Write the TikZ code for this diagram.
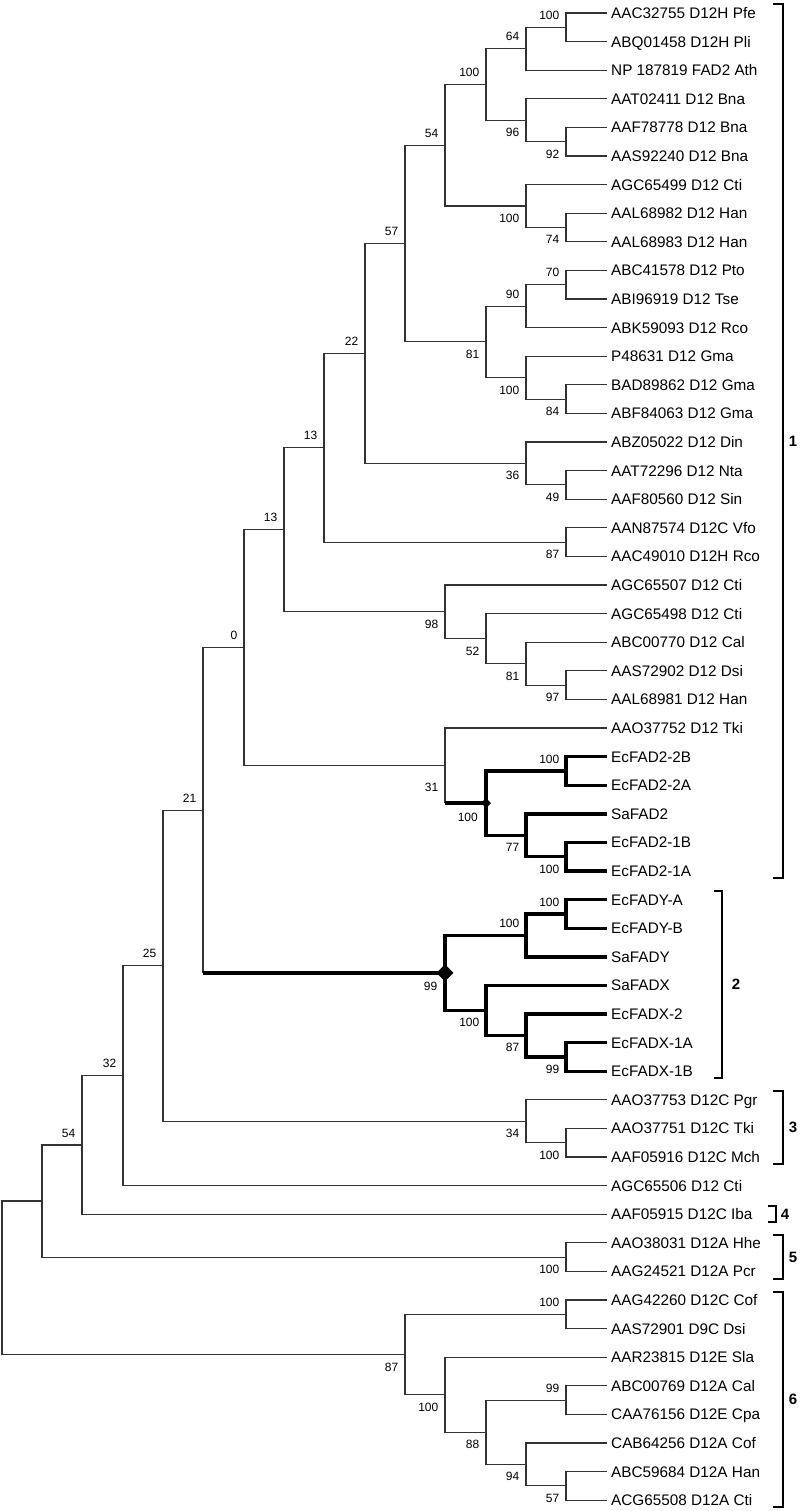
\documentclass[tikz,border=0pt]{standalone}
\usepackage{fontspec}
\setmainfont{Liberation Sans}
\usetikzlibrary{positioning,shapes.geometric}

\begin{document}
\begin{tikzpicture}[x=1pt,y=-1pt,
    br/.style={draw=black!80,line width=1.1pt},
    bold/.style={draw=black,line width=3.4pt},
    leaf/.style={inner sep=0pt,text height=11pt,text depth=0pt,font=\fontsize{15.3}{18}\selectfont},
    bsa/.style={inner sep=0pt,anchor=south east,xshift=-6.5pt,yshift=7.7pt,text height=8.6pt,text depth=0pt,font=\fontsize{12}{14}\selectfont},
    bsb/.style={inner sep=0pt,anchor=north east,xshift=-6.5pt,yshift=-7.7pt,text height=8.6pt,text depth=0pt,font=\fontsize{12}{14}\selectfont},
    grp/.style={inner sep=0pt,font=\fontsize{15}{18}\selectfont\bfseries},
    brk/.style={draw=black,line width=1.1pt}]

\useasboundingbox (0,0) rectangle (800,1511);

% Leaves
\foreach \i/\t in {0/AAC32755 D12H Pfe, 1/ABQ01458 D12H Pli, 2/NP 187819 FAD2 Ath,
    3/AAT02411 D12 Bna, 4/AAF78778 D12 Bna, 5/AAS92240 D12 Bna, 6/AGC65499 D12 Cti,
    7/AAL68982 D12 Han, 8/AAL68983 D12 Han, 9/ABC41578 D12 Pto, 10/ABI96919 D12 Tse,
    11/ABK59093 D12 Rco, 12/P48631 D12 Gma, 13/BAD89862 D12 Gma, 14/ABF84063 D12 Gma,
    15/ABZ05022 D12 Din, 16/AAT72296 D12 Nta, 17/AAF80560 D12 Sin, 18/AAN87574 D12C Vfo,
    19/AAC49010 D12H Rco, 20/AGC65507 D12 Cti, 21/AGC65498 D12 Cti, 22/ABC00770 D12 Cal,
    23/AAS72902 D12 Dsi, 24/AAL68981 D12 Han, 25/AAO37752 D12 Tki, 26/EcFAD2-2B,
    27/EcFAD2-2A, 28/SaFAD2, 29/EcFAD2-1B, 30/EcFAD2-1A, 31/EcFADY-A, 32/EcFADY-B,
    33/SaFADY, 34/SaFADX, 35/EcFADX-2, 36/EcFADX-1A, 37/EcFADX-1B,
    38/AAO37753 D12C Pgr, 39/AAO37751 D12C Tki, 40/AAF05916 D12C Mch, 41/AGC65506 D12 Cti,
    42/AAF05915 D12C Iba, 43/AAO38031 D12A Hhe, 44/AAG24521 D12A Pcr, 45/AAG42260 D12C Cof,
    46/AAS72901 D9C Dsi, 47/AAR23815 D12E Sla, 48/ABC00769 D12A Cal, 49/CAA76156 D12E Cpa,
    50/CAB64256 D12A Cof, 51/ABC59684 D12A Han, 52/ACG65508 D12A Cti} {
    \coordinate (t\i) at (606.5,{13+28.6*\i});
    \node[leaf,right=4.5pt of t\i] (l\i) {\t};
}

% Internal nodes
\foreach \n/\x/\y in {p1/566/27.3, p2/526/48.75, p3/566/141.7, p4/526/120.25, p5/486/84.5,
    p6/566/227.5, p7/526/206.05, p8/445/145.28, p9/566/284.7, p10/526/306.15,
    p11/566/399.1, p12/526/377.65, p13/486/341.9, p14/405/243.59, p15/566/484.9,
    p16/526/463.45, p17/365/353.52, p18/566/542.1, p19/324/447.81, p20/566/685.1,
    p21/526/663.65, p22/486/638.63, p23/445/611.81, p24/284/529.81, p25/566/770.9,
    p26/566/856.7, p27/526/835.25, p28/486/803.08, p29/445/765.54, p30/244/647.67,
    q1/566/913.9, q2/526/935.35, q3/566/1056.9, q4/526/1035.45, q5/486/1010.43,
    q6/445/972.89, r1/203/810.28, s1/566/1142.7, s2/526/1121.25, r2/163/965.77,
    r3/123/1075.68, r4/82/1144.94, s3/566/1257.1, r5/42/1201.02, u1/566/1314.3,
    u2/566/1400.1, u3/566/1485.9, u4/526/1464.45, u5/486/1432.28, u6/445/1394.74,
    u7/405/1354.52, root/2/1277.77}
    \coordinate (\n) at (\x,\y);

% Branches
\foreach \a/\b in {p1/t0, p1/t1, p2/p1, p2/t2, p3/t4, p3/t5, p4/t3, p4/p3, p5/p2, p5/p4,
    p6/t7, p6/t8, p7/t6, p7/p6, p8/p5, p8/p7, p9/t9, p9/t10, p10/p9, p10/t11, p11/t13,
    p11/t14, p12/t12, p12/p11, p13/p10, p13/p12, p14/p8, p14/p13, p15/t16, p15/t17,
    p16/t15, p16/p15, p17/p14, p17/p16, p18/t18, p18/t19, p19/p17, p19/p18, p20/t23,
    p20/t24, p21/t22, p21/p20, p22/t21, p22/p21, p23/t20, p23/p22, p24/p19, p24/p23,
    p29/t25, p30/p24, p30/p29, r1/p30, s1/t39, s1/t40, s2/t38, s2/s1, r2/r1, r2/s2,
    r3/r2, r3/t41, r4/r3, r4/t42, s3/t43, s3/t44, r5/r4, r5/s3, u1/t45, u1/t46, u2/t48,
    u2/t49, u3/t51, u3/t52, u4/t50, u4/u3, u5/u2, u5/u4, u6/t47, u6/u5, u7/u1, u7/u6,
    root/r5, root/u7}
    \draw[br] (\a) |- (\b);

% FAD2 and FADX/FADY branches
\foreach \a/\b in {p25/t26, p25/t27, p26/t29, p26/t30, p27/t28, p27/p26, p28/p25, p28/p27,
    q1/t31, q1/t32, q2/q1, q2/t33, q3/t36, q3/t37, q4/t35, q4/q3, q5/t34, q5/q4,
    q6/q2, q6/q5}
    \draw[bold] (\a) |- (\b);
\foreach \a/\b in {p29/p28, r1/q6} {
    \draw[br] (\a) -- (\a |- \b);
    \draw[bold] (\a |- \b) -- (\b);
}
\node[diamond,fill=black,inner sep=0pt,minimum size=10pt] (d1) at (p28) {};
\node[diamond,fill=black,inner sep=0pt,minimum size=17pt] (d2) at (q6) {};

% Bootstrap values
\foreach \n/\v in {p1/100, p2/64, p5/100, p8/54, p9/70, p10/90, p14/57, p17/22, p19/13,
    p24/13, p30/0, p25/100, q1/100, q2/100, r1/21, r2/25, r3/32, r4/54, u1/100, u2/99}
    \node[bsa] (b\n) at (\n) {\v};
\foreach \n/\v in {p3/92, p4/96, p6/74, p7/100, p11/84, p12/100, p13/81, p15/49, p16/36,
    p18/87, p20/97, p21/81, p22/52, p23/98, p26/100, p27/77, q3/99, q4/87, q5/100,
    s1/100, s2/34, s3/100, u3/57, u4/94, u5/88, u6/100, u7/87}
    \node[bsb] (b\n) at (\n) {\v};
\node[bsb,yshift=-9.5pt] (bp29) at (p29) {31};
\node[bsb,xshift=-1.5pt,yshift=-1.5pt] (bp28) at (p28) {100};
\node[bsb,xshift=-1pt,yshift=-1.5pt] (bq6) at (q6) {99};

% Groups
\draw[brk] (773,4) -- (783,4) -- (783,878) -- (773,878);
\node[grp] (g1) at (793,441) {1};
\draw[brk] (714,891) -- (722,891) -- (722,1078) -- (714,1078);
\node[grp] (g2) at (736,984.5) {2};
\draw[brk] (773,1091) -- (783,1091) -- (783,1164) -- (773,1164);
\node[grp] (g3) at (793,1127.5) {3};
\draw[brk] (768,1206) -- (776,1206) -- (776,1222) -- (768,1222);
\node[grp] (g4) at (785,1214) {4};
\draw[brk] (773,1235) -- (783,1235) -- (783,1279) -- (773,1279);
\node[grp] (g5) at (793,1257) {5};
\draw[brk] (773,1292) -- (783,1292) -- (783,1507) -- (773,1507);
\node[grp] (g6) at (793,1399) {6};

\end{tikzpicture}
\end{document}
